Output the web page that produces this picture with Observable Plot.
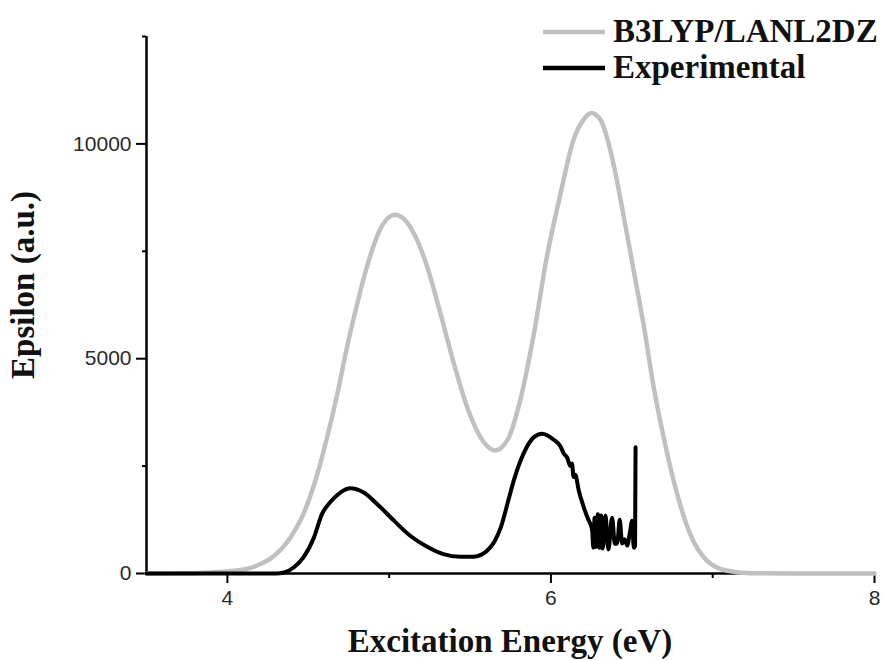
<!DOCTYPE html>
<html><head><meta charset="utf-8">
<script src="https://cdn.jsdelivr.net/npm/d3@7"></script>
<script src="https://cdn.jsdelivr.net/npm/@observablehq/plot@0.6"></script>
<style>body{margin:0;background:#fff;} #chart{position:relative;width:884px;height:661px;}</style>
</head><body><div id="chart"></div>
<script>
// Calculated spectrum (B3LYP/LANL2DZ)
const theoryE   = [3.5, 3.8, 3.96, 4.08, 4.18, 4.29, 4.39, 4.47, 4.555, 4.615, 4.68, 4.74, 4.80, 4.865, 4.945, 5.0, 5.035, 5.08, 5.152, 5.235, 5.317, 5.40, 5.482, 5.564, 5.655, 5.73, 5.81, 5.895, 5.975, 6.06, 6.14, 6.2, 6.25, 6.31, 6.35, 6.39, 6.45, 6.51, 6.575, 6.635, 6.71, 6.78, 6.86, 6.965, 7.09, 7.23, 7.5, 8.0];
const theoryEps = [0, 5, 40, 80, 180, 413, 840, 1386, 2300, 3150, 4187, 5280, 6240, 7170, 8020, 8300, 8350, 8290, 7921, 7142, 6054, 4887, 3874, 3174, 2864, 3097, 4031, 5588, 7375, 8855, 10099, 10560, 10720, 10540, 10099, 9476, 8309, 7080, 5742, 4341, 2941, 1853, 920, 296, 63, 5, 0, 0];
// Experimental spectrum
const exptE   = [3.5, 4.0, 4.3, 4.35, 4.41, 4.47, 4.535, 4.585, 4.635, 4.70, 4.76, 4.84, 4.925, 5.03, 5.13, 5.235, 5.335, 5.44, 5.52, 5.57, 5.605, 5.65, 5.69, 5.74, 5.77, 5.83, 5.895, 5.945, 6.015, 6.06, 6.08, 6.10, 6.12, 6.13, 6.14, 6.15, 6.172, 6.203, 6.234, 6.244, 6.255, 6.262, 6.27, 6.28, 6.29, 6.30, 6.31, 6.32, 6.337, 6.355, 6.378, 6.395, 6.41, 6.425, 6.44, 6.455, 6.471, 6.49, 6.502, 6.512, 6.52, 6.523];
const exptEps = [0, 0, 0, 23, 140, 373, 840, 1386, 1657, 1890, 1984, 1890, 1620, 1230, 880, 623, 453, 390, 390, 440, 530, 740, 1073, 1750, 2163, 2786, 3174, 3253, 3120, 2950, 2786, 2700, 2500, 2560, 2250, 2300, 1930, 1540, 1230, 1150, 1000, 600, 1300, 620, 1380, 600, 1350, 580, 1350, 560, 1300, 690, 700, 1250, 700, 800, 650, 1000, 1230, 600, 650, 2940];

const seriesNames  = ["B3LYP/LANL2DZ", "Experimental"];
const seriesColors = ["#c0c0c0", "#000000"];
const xTicksMajor = [4, 6, 8];
const xTicksMinor = [5, 7];
const yTicksMajor = [0, 5000, 10000];
const yTicksMinor = [2500, 7500, 12500];
const xDomain = [3.5, 8];
const yDomain = [0, 12500];
const xTitle = "Excitation Energy (eV)";
const yTitle = "Epsilon (a.u.)";

const theory = theoryE.map((e, i) => ({e, eps: theoryEps[i]}));
const expt = exptE.map((e, i) => ({e, eps: exptEps[i]}));

const W = 884, H = 661, mL = 146, mR = 10, mT = 36, mB = 88;
const plot = Plot.plot({
  width: W, height: H,
  marginLeft: mL, marginRight: mR, marginTop: mT, marginBottom: mB,
  x: {domain: xDomain},
  y: {domain: yDomain},
  style: {fontFamily: "'Liberation Sans', Arial, sans-serif", fontSize: "21px", background: "#fff", color: "#000"},
  marks: [
    Plot.axisX({ticks: xTicksMajor, tickSize: 10, tickPadding: 7, tickFormat: d => String(d), label: null, stroke: "#000", strokeWidth: 2, fill: "#2a2a2a", fontSize: 21}),
    Plot.axisX({ticks: xTicksMinor, tickSize: 5, tickFormat: () => "", label: null, stroke: "#000", strokeWidth: 2}),
    Plot.axisY({ticks: yTicksMajor, tickSize: 10, tickPadding: 5, tickFormat: d => String(d), label: null, stroke: "#000", strokeWidth: 2, fill: "#2a2a2a", fontSize: 21}),
    Plot.axisY({ticks: yTicksMinor, tickSize: 4, tickFormat: () => "", label: null, stroke: "#000", strokeWidth: 2}),
    Plot.ruleX([xDomain[0]], {stroke: "#000", strokeWidth: 2.5}),
    Plot.ruleY([yDomain[0]], {stroke: "#000", strokeWidth: 2.5}),
    Plot.line(theory, {x: "e", y: "eps", stroke: seriesColors[0], strokeWidth: 4.5, curve: "monotone-x"}),
    Plot.line(expt, {x: "e", y: "eps", stroke: seriesColors[1], strokeWidth: 4, curve: "monotone-x"})
  ]
});
document.getElementById("chart").appendChild(plot);

const svg = d3.select(plot);
const titleFont = "bold 33px 'Liberation Serif', 'Times New Roman', serif";
svg.append("text").attr("x", (mL + W - mR) / 2).attr("y", H - 9)
  .attr("text-anchor", "middle").style("font", titleFont).attr("fill", "#111").text(xTitle);
svg.append("text").attr("transform", `translate(34,285) rotate(-90)`)
  .attr("text-anchor", "middle").style("font", titleFont).attr("fill", "#111").text(yTitle);

// legend
const lg = svg.append("g");
seriesNames.forEach((name, i) => {
  const cy = 32 + i * 36;
  lg.append("line").attr("x1", 543).attr("x2", 605).attr("y1", cy).attr("y2", cy)
    .attr("stroke", seriesColors[i]).attr("stroke-width", 4.5);
  lg.append("text").attr("x", 613).attr("y", cy + 10).attr("text-anchor", "start")
    .style("font", titleFont).attr("fill", "#111").text(name);
});
</script>
</body></html>
